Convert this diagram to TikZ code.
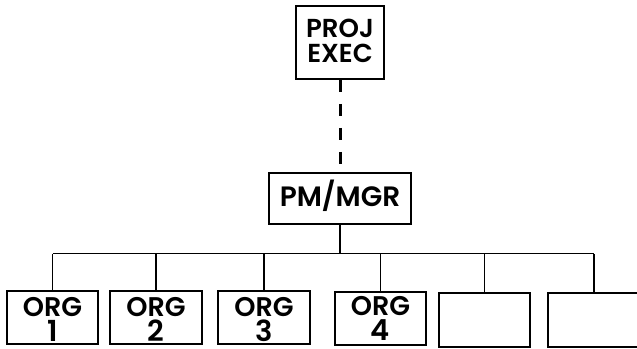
\documentclass[tikz,border=0pt]{standalone}
\usepackage{fontspec}
\setmainfont{Poppins}[BoldFont={Poppins SemiBold}]
\begin{document}
\begin{tikzpicture}[x=1pt,y=-1pt,
  box/.style={draw=black,line width=1.8pt,inner sep=0pt},
  txt/.style={anchor=base,inner sep=0pt,font=\bfseries},
  wire/.style={draw=black,line width=1.5pt},
  dashwire/.style={draw=black,line width=3pt,dash pattern=on 12pt off 12pt}]
\useasboundingbox (0,0) rectangle (637,348);
\node[box,minimum width=88pt,minimum height=73pt] (exec) at (340,42.5) {};
\node[box,minimum width=142pt,minimum height=51pt] (pm) at (340,198.5) {};
\node[box,minimum width=91pt,minimum height=53pt] (b1) at (52.5,317.5) {};
\node[box,minimum width=92pt,minimum height=53pt] (b2) at (156,317.5) {};
\node[box,minimum width=92pt,minimum height=53pt] (b3) at (264,317.5) {};
\node[box,minimum width=91pt,minimum height=53pt] (b4) at (380.5,318.5) {};
\node[box,minimum width=91pt,minimum height=54pt] (b5) at (484.5,320) {};
\node[box,minimum width=92pt,minimum height=54pt] (b6) at (594,320) {};
% texts
\node[txt,font=\bfseries\fontsize{26}{26}\selectfont] (t1) at (340,37.5) {PROJ};
\node[txt,font=\bfseries\fontsize{26}{26}\selectfont] (t2) at (340,62.5) {EXEC};
\node[txt,font=\bfseries\fontsize{28}{28}\selectfont] (t3) at (340,206) {PM/MGR};
\foreach \b/\n/\dy in {b1/1/0,b2/2/0,b3/3/0,b4/4/1}{
  \node[txt,font=\bfseries\fontsize{27}{27}\selectfont] (\b o) at ([yshift=\dy pt]\b.center |- 0,316) {ORG};
  \node[txt,font=\bfseries\fontsize{29}{29}\selectfont] (\b n) at ([yshift=\dy pt]\b.center |- 0,341) {\n};
}
\coordinate (bus) at (340,253.5);
\draw[dashwire] (exec.south) -- (pm.north);
\draw[wire] (pm.south) -- (bus);
\draw[wire] (b1.north |- bus) -- (b6.north |- bus);
\foreach \b in {b1,b2,b3,b4,b5,b6}{
  \draw[wire] (\b.north) -- (\b.north |- bus);
}
\end{tikzpicture}
\end{document}
